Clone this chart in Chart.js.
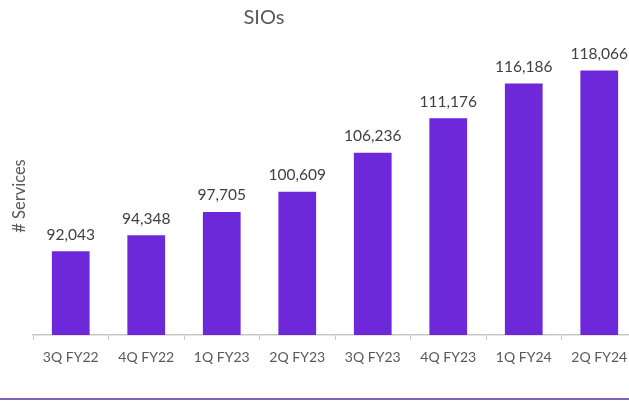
<!DOCTYPE html>
<html>
<head>
<meta charset="utf-8">
<script src="https://cdn.jsdelivr.net/npm/chart.js@4"></script>
<style>
  html, body { margin: 0; padding: 0; background: #fff; overflow: hidden; }
  #wrap { position: relative; width: 640px; height: 401px; }
  #rule { position: absolute; left: 0; top: 398px; width: 629px; height: 2px; background: #7d62b5; }
</style>
</head>
<body>
<div id="wrap">
  <canvas id="chart"></canvas>
</div>
<div id="rule"></div>
<script>
const quarters = ['3Q FY22', '4Q FY22', '1Q FY23', '2Q FY23', '3Q FY23', '4Q FY23', '1Q FY24', '2Q FY24'];
const services = [92043, 94348, 97705, 100609, 106236, 111176, 116186, 118066];

const fontFamily = 'Lato, "Open Sans", sans-serif';
const textGrey = '#595959';

const labelsPlugin = {
  id: 'barLabels',
  afterDatasetsDraw(chart) {
    const ctx = chart.ctx;
    const meta = chart.getDatasetMeta(0);
    ctx.save();
    ctx.font = '15.5px ' + fontFamily;
    ctx.fillStyle = '#404040';
    ctx.textAlign = 'center';
    ctx.textBaseline = 'bottom';
    meta.data.forEach((bar, i) => {
      ctx.fillText(services[i].toLocaleString('en-US'), bar.x, bar.y - 9);
    });
    // title
    ctx.font = '20px ' + fontFamily;
    ctx.fillStyle = textGrey;
    ctx.textBaseline = 'middle';
    ctx.fillText('SIOs', 264, 18);
    ctx.restore();
  }
};

new Chart(document.getElementById('chart'), {
  type: 'bar',
  data: {
    labels: quarters,
    datasets: [{
      data: services,
      backgroundColor: '#6d28d9',
      categoryPercentage: 1,
      barPercentage: 0.5
    }]
  },
  options: {
    responsive: true,
    maintainAspectRatio: false,
    animation: false,
    layout: { padding: { top: 57, right: 3, left: 0, bottom: 0 } },
    plugins: {
      legend: { display: false },
      tooltip: { enabled: false }
    },
    scales: {
      x: {
        offset: true,
        grid: {
          offset: true,
          drawOnChartArea: false,
          tickLength: 5,
          color: '#c8c8c8',
          lineWidth: 1
        },
        border: { color: '#c8c8c8', width: 1.5 },
        ticks: { color: textGrey, font: { family: fontFamily, size: 14 }, padding: 9, maxRotation: 0 },
        afterFit(scale) { scale.height = 66; }
      },
      y: {
        min: 80000,
        max: 120000,
        grid: { display: false },
        border: { display: false },
        ticks: { display: false },
        title: {
          display: true,
          text: '# Services',
          color: textGrey,
          font: { family: fontFamily, size: 16.5 },
          padding: { top: 10, bottom: 0 }
        },
        afterFit(scale) { scale.width = 33; }
      }
    }
  },
  plugins: [labelsPlugin]
});
</script>
</body>
</html>
